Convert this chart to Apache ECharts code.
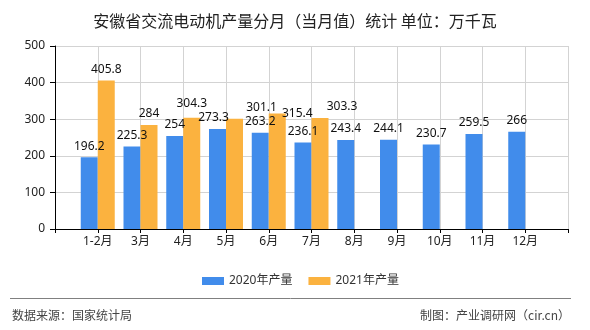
<!DOCTYPE html>
<html>
<head>
<meta charset="utf-8">
<script src="https://cdn.jsdelivr.net/npm/echarts@6/dist/echarts.min.js"></script>
<style>html,body{margin:0;padding:0;background:#fff}#c{width:590px;height:330px}</style>
</head>
<body>
<div id="c"></div>
<script>
var months = ['1-2月','3月','4月','5月','6月','7月','8月','9月','10月','11月','12月'];
var output2020 = [196.2, 225.3, 254, 273.3, 263.2, 236.1, 243.4, 244.1, 230.7, 259.5, 266];
var output2021 = [405.8, 284, 304.3, 301.1, 315.4, 303.3, null, null, null, null, null];
var yTicks = [0, 100, 200, 300, 400, 500];

var FONT = '"Noto Sans", "Noto Sans CJK SC", sans-serif';
// padded category axis: empty slot at each end so groups sit on the ticks
var axisCats = [''].concat(months, ['']);
function pad(arr) { return [null].concat(arr, [null]); }

// label nudges (style only) keyed by month index
var shift2020 = {3: [-4, 0]};
var shift2021 = {2: [0, -3], 3: [27, 0], 4: [20, 11], 5: [22, 0]};
function withShift(arr, shifts) {
  return pad(arr).map(function (v, i) {
    var s = shifts[i - 1];
    if (v == null || !s) return v;
    return { value: v, label: { offset: s } };
  });
}

var chart = echarts.init(document.getElementById('c'), null, {renderer: 'canvas'});
chart.setOption({
  animation: false,
  backgroundColor: '#fff',
  title: {
    text: '安徽省交流电动机产量分月（当月值）统计 单位：万千瓦',
    left: 'center', top: 8,
    textStyle: {fontFamily: '"Noto Sans CJK SC", sans-serif', fontSize: 16, fontWeight: 'normal', color: '#222'}
  },
  legend: {
    left: 197, top: 270,
    itemWidth: 22, itemHeight: 8, itemGap: 16,
    icon: 'rect',
    textStyle: {fontFamily: FONT, fontSize: 12, color: '#333'},
    data: ['2020年产量', '2021年产量']
  },
  grid: {left: 55, right: 22, top: 46, bottom: 101},
  xAxis: {
    type: 'category',
    data: axisCats,
    boundaryGap: false,
    axisLine: {lineStyle: {color: '#000', width: 1}},
    axisTick: {show: true, length: 4, lineStyle: {color: '#000'}, interval: 0},
    axisLabel: {fontFamily: FONT, fontSize: 12, color: '#222', margin: 7, interval: 0},
    splitLine: {show: true, interval: 0, lineStyle: {color: '#d3d3d3'}}
  },
  yAxis: {
    type: 'value',
    min: yTicks[0], max: yTicks[yTicks.length - 1], interval: 100,
    axisLine: {show: true, lineStyle: {color: '#000', width: 1}},
    axisTick: {show: true, length: 5, lineStyle: {color: '#000'}},
    axisLabel: {fontFamily: FONT, fontSize: 12, color: '#222', margin: 10},
    splitLine: {show: true, lineStyle: {color: '#d3d3d3'}}
  },
  series: [
    {
      name: '2020年产量', type: 'bar', barWidth: 17, barGap: '0%',
      itemStyle: {color: '#418CEB'},
      label: {show: true, position: 'top', distance: 5, fontFamily: FONT, fontSize: 12, color: '#111'},
      data: withShift(output2020, shift2020)
    },
    {
      name: '2021年产量', type: 'bar', barWidth: 17, barGap: '0%',
      itemStyle: {color: '#FBB23F'},
      label: {show: true, position: 'top', distance: 5, fontFamily: FONT, fontSize: 12, color: '#111'},
      data: withShift(output2021, shift2021)
    }
  ],
  graphic: [
    {type: 'line', shape: {x1: 10, y1: 298.5, x2: 571, y2: 298.5}, style: {stroke: '#808080', lineWidth: 1}},
    {type: 'text', left: 12, top: 309, style: {text: '数据来源：国家统计局', font: '12px "Noto Sans CJK SC", sans-serif', fill: '#444'}},
    {type: 'text', right: 20, top: 309, style: {text: '制图：产业调研网（cir.cn）', font: '12px "Noto Sans CJK SC", sans-serif', fill: '#444'}}
  ]
});
</script>
</body>
</html>
